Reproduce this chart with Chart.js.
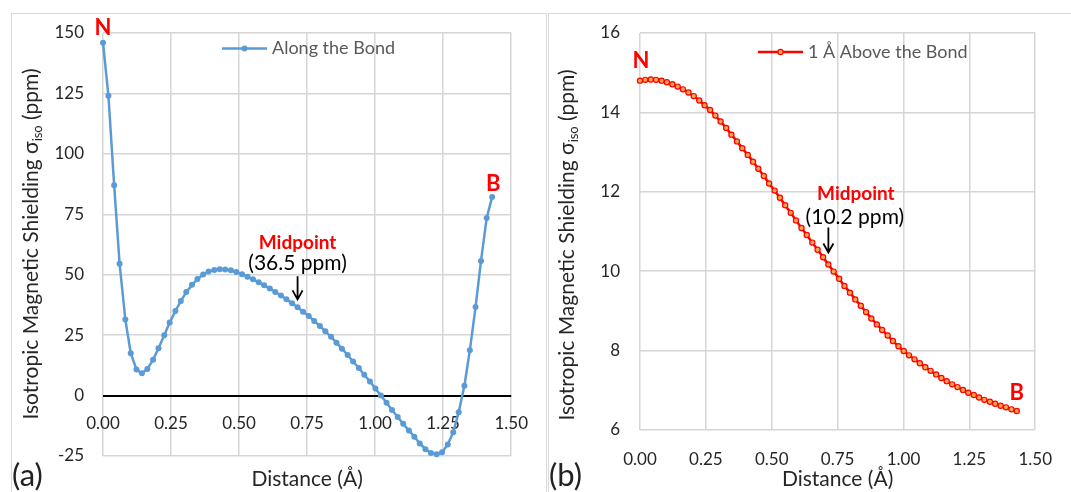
<!DOCTYPE html>
<html lang="en">
<head>
    <meta charset="UTF-8">
    <title>Isotropic Magnetic Shielding along the N-B bond</title>
    <script src="https://cdn.jsdelivr.net/npm/chart.js"></script>
    <style>
        body { margin: 0; background: #fff; }
        #wrap { position: relative; width: 1071px; height: 492px; overflow: hidden; background: #fff; font-family: Lato, sans-serif; }
        .panel { position: absolute; top: 13px; height: 520px; border: 1.5px solid #d9d9d9; box-sizing: border-box; }
        #panelA { left: 11px; width: 536px; }
        #panelB { left: 548px; width: 560px; }
        canvas { position: absolute; top: 0; }
        #chartA { left: 0; }
        #chartB { left: 548px; }
        .tag { position: absolute; top: 456px; font-size: 31px; line-height: 36px; color: #222; }
    </style>
</head>
<body>
<div id="wrap">
    <div class="panel" id="panelA"></div>
    <div class="panel" id="panelB"></div>
    <canvas id="chartA" width="546" height="492"></canvas>
    <canvas id="chartB" width="523" height="492"></canvas>
    <div class="tag" style="left:12px">(a)</div>
    <div class="tag" style="left:549px">(b)</div>
</div>
<script>
    // distance from N (Å), same grid for both scans
    const distance = [
        0.000, 0.020, 0.041, 0.061, 0.082, 0.102, 0.123, 0.143, 0.163, 0.184,
        0.204, 0.225, 0.245, 0.266, 0.286, 0.306, 0.327, 0.347, 0.368, 0.388,
        0.409, 0.429, 0.449, 0.470, 0.490, 0.511, 0.531, 0.551, 0.572, 0.592,
        0.613, 0.633, 0.654, 0.674, 0.695, 0.715, 0.735, 0.756, 0.776, 0.797,
        0.817, 0.838, 0.858, 0.878, 0.899, 0.919, 0.940, 0.960, 0.981, 1.001,
        1.021, 1.042, 1.062, 1.083, 1.103, 1.124, 1.144, 1.164, 1.185, 1.205,
        1.226, 1.246, 1.267, 1.287, 1.307, 1.328, 1.348, 1.369, 1.389, 1.410, 1.430
    ];

    // sigma_iso (ppm) along the bond
    const sigmaAlong = [
        146, 124, 87, 54.5, 31.5, 17.5, 10.8, 9.2, 11.0, 14.8,
        19.6, 25.0, 30.2, 35.0, 39.1, 42.8, 45.8, 48.2, 50.1, 51.3,
        52.0, 52.3, 52.2, 51.8, 51.1, 50.2, 49.2, 48.1, 46.9, 45.6,
        44.3, 42.9, 41.4, 39.8, 38.2, 36.5, 34.7, 32.9, 30.9, 28.8,
        26.6, 24.3, 21.9, 19.4, 16.8, 14.1, 11.4, 8.6, 5.8, 2.9,
        0.0, -3.0, -6.0, -8.9, -11.7, -14.4, -17.0, -19.8, -22.2, -23.8,
        -24.3, -23.4, -20.2, -15.2, -6.9, 4.1, 18.7, 36.6, 55.7, 73.5, 82.2
    ];

    // sigma_iso (ppm) 1 Å above the bond
    const sigmaAbove = [
        14.80, 14.82, 14.83, 14.82, 14.80, 14.76, 14.71, 14.65, 14.58, 14.50,
        14.41, 14.30, 14.18, 14.06, 13.92, 13.77, 13.61, 13.44, 13.27, 13.10,
        12.93, 12.76, 12.58, 12.40, 12.21, 12.03, 11.85, 11.66, 11.47, 11.28,
        11.09, 10.91, 10.72, 10.54, 10.35, 10.17, 9.99, 9.81, 9.63, 9.46,
        9.29, 9.13, 8.97, 8.81, 8.66, 8.52, 8.38, 8.24, 8.11, 7.99,
        7.88, 7.78, 7.68, 7.58, 7.49, 7.40, 7.31, 7.23, 7.15, 7.08,
        7.01, 6.94, 6.88, 6.82, 6.76, 6.71, 6.66, 6.61, 6.57, 6.52, 6.48
    ];

    const distanceTicks = [0, 0.25, 0.5, 0.75, 1, 1.25, 1.5];
    const alongTicks = [-25, 0, 25, 50, 75, 100, 125, 150];
    const aboveTicks = [6, 8, 10, 12, 14, 16];
    const seriesNames = ['Along the Bond', '1 Å Above the Bond'];
    const midLabels = ['(36.5 ppm)', '(10.2 ppm)'];
    const midIndex = 35;

    const FONT = 'Lato, "Open Sans", sans-serif';
    const GRID = '#d6d6d6';
    const TEXT = '#262626';
    const RED = '#ff0000';

    // draws y title (with subscript), legend and the N / B / midpoint notes
    const decor = {
        id: 'decor',
        afterDatasetsDraw(chart, args, o) {
            const ctx = chart.ctx;
            const xs = chart.scales.x, ys = chart.scales.y;
            const ds = chart.data.datasets[0];
            const pts = ds.data;

            // y axis title
            const t = o.yTitle;
            ctx.save();
            ctx.translate(t.x, t.y);
            ctx.rotate(-Math.PI / 2);
            ctx.fillStyle = TEXT;
            ctx.textAlign = 'left';
            ctx.textBaseline = 'alphabetic';
            const big = t.size + 'px ' + FONT, small = t.subSize + 'px ' + FONT;
            ctx.font = big;
            const w1 = ctx.measureText(t.before).width;
            const w3 = ctx.measureText(t.after).width;
            ctx.font = small;
            const w2 = ctx.measureText(t.sub).width;
            let cx = -(w1 + w2 + w3) / 2;
            ctx.font = big; ctx.fillText(t.before, cx, 0); cx += w1;
            ctx.font = small; ctx.fillText(t.sub, cx, t.subShift); cx += w2;
            ctx.font = big; ctx.fillText(t.after, cx, 0);
            ctx.restore();

            // legend
            const L = o.legend;
            ctx.save();
            ctx.strokeStyle = ds.borderColor;
            ctx.lineWidth = ds.borderWidth;
            ctx.beginPath();
            ctx.moveTo(L.x, L.y);
            ctx.lineTo(L.x + 45, L.y);
            ctx.stroke();
            ctx.beginPath();
            ctx.arc(L.x + 22.5, L.y, ds.pointRadius, 0, Math.PI * 2);
            ctx.fillStyle = ds.pointBackgroundColor;
            ctx.fill();
            if (ds.pointBorderWidth) { ctx.lineWidth = ds.pointBorderWidth; ctx.stroke(); }
            ctx.font = L.size + 'px ' + FONT;
            ctx.fillStyle = '#595959';
            ctx.textAlign = 'left';
            ctx.textBaseline = 'middle';
            ctx.fillText(ds.label, L.x + 50, L.y);
            ctx.restore();

            // notes anchored on data points
            ctx.save();
            for (const n of o.notes) {
                const p = pts[n.at];
                const x = xs.getPixelForValue(p.x) + (n.dx || 0);
                const y = ys.getPixelForValue(p.y);
                if (n.arrow) {
                    const y1 = y + n.arrow[0], y2 = y + n.arrow[1];
                    ctx.strokeStyle = '#000';
                    ctx.lineWidth = 1.8;
                    ctx.beginPath();
                    ctx.moveTo(x, y1); ctx.lineTo(x, y2);
                    ctx.moveTo(x - 5, y2 - 9); ctx.lineTo(x, y2); ctx.lineTo(x + 5, y2 - 9);
                    ctx.stroke();
                } else {
                    ctx.font = (n.bold ? 'bold ' : '') + n.size + 'px ' + FONT;
                    ctx.fillStyle = n.color;
                    ctx.textAlign = 'center';
                    ctx.textBaseline = 'middle';
                    ctx.fillText(n.text, x, y + n.dy);
                }
            }
            ctx.restore();
        }
    };

    function setTicks(values) {
        return scale => { scale.ticks = values.map(v => ({ value: v })); };
    }

    function makeChart(id, c) {
        const canvas = document.getElementById(id);
        const W = canvas.width, H = canvas.height;
        const tickFont = { family: FONT, size: 17 };

        const scales = {
            x: {
                type: 'linear',
                position: 'bottom',
                min: distanceTicks[0],
                max: distanceTicks[distanceTicks.length - 1],
                afterBuildTicks: setTicks(distanceTicks),
                afterFit: s => { s.height = H - c.area.bottom; },
                grid: { color: GRID, lineWidth: 1.5, drawTicks: false },
                border: { display: false },
                ticks: {
                    display: !c.labelsAtZero,
                    padding: 19,
                    font: tickFont,
                    color: TEXT,
                    callback: v => v.toFixed(2)
                },
                title: {
                    display: true,
                    text: 'Distance (Å)',
                    font: { family: FONT, size: 21 },
                    color: TEXT,
                    padding: { top: 0, bottom: 0 }
                }
            },
            y: {
                type: 'linear',
                min: c.yTicks[0],
                max: c.yTicks[c.yTicks.length - 1],
                afterBuildTicks: setTicks(c.yTicks),
                afterFit: s => { s.width = c.area.left; },
                grid: {
                    drawTicks: false,
                    color: g => (c.labelsAtZero && g.tick && g.tick.value === 0) ? '#000' : GRID,
                    lineWidth: g => (c.labelsAtZero && g.tick && g.tick.value === 0) ? 2 : 1.5
                },
                border: { display: false },
                ticks: { padding: c.yPad, font: tickFont, color: TEXT, callback: v => String(v) }
            }
        };

        if (c.labelsAtZero) {
            // tick labels sit next to the zero line, as in the original
            scales.x2 = {
                type: 'linear',
                axis: 'x',
                position: { y: 0 },
                min: distanceTicks[0],
                max: distanceTicks[distanceTicks.length - 1],
                afterBuildTicks: setTicks(distanceTicks),
                afterFit: s => { s.height = 0; },
                grid: { display: false, drawTicks: false },
                border: { display: false },
                ticks: { padding: 18, font: tickFont, color: TEXT, callback: v => v.toFixed(2) }
            };
        }

        return new Chart(canvas, {
            type: 'line',
            data: {
                datasets: [{
                    label: c.name,
                    data: distance.map((d, i) => ({ x: d, y: c.values[i] })),
                    borderColor: c.color,
                    backgroundColor: c.color,
                    borderWidth: 2.5,
                    pointRadius: c.pointRadius,
                    pointBackgroundColor: c.pointFill,
                    pointBorderColor: c.color,
                    pointBorderWidth: c.pointBorder,
                    tension: 0,
                    clip: false
                }]
            },
            options: {
                responsive: false,
                animation: false,
                devicePixelRatio: 1,
                layout: { padding: { top: c.area.top, right: W - c.area.right, left: 0, bottom: 0 } },
                plugins: {
                    legend: { display: false },
                    tooltip: { enabled: false },
                    decor: c.decor
                },
                scales: scales
            },
            plugins: [decor]
        });
    }

    makeChart('chartA', {
        name: seriesNames[0],
        values: sigmaAlong,
        yTicks: alongTicks,
        color: '#5b9bd5',
        pointFill: '#5b9bd5',
        pointRadius: 3,
        pointBorder: 0,
        labelsAtZero: true,
        yPad: 19,
        area: { left: 103, right: 512, top: 33, bottom: 456 },
        decor: {
            yTitle: { x: 37.5, y: 244, size: 21, subSize: 13, subShift: 4,
                      before: 'Isotropic Magnetic Shielding σ', sub: 'iso', after: ' (ppm)' },
            legend: { x: 222, y: 48.5, size: 18 },
            notes: [
                { at: 0, text: 'N', dy: -15, bold: true, size: 22, color: RED },
                { at: distance.length - 1, text: 'B', dx: 1, dy: -13, bold: true, size: 22, color: RED },
                { at: midIndex, text: 'Midpoint', dy: -64, bold: true, size: 19, color: RED },
                { at: midIndex, text: midLabels[0], dy: -44, size: 21, color: '#000' },
                { at: midIndex, arrow: [-31, -8] }
            ]
        }
    });

    makeChart('chartB', {
        name: seriesNames[1],
        values: sigmaAbove,
        yTicks: aboveTicks,
        color: RED,
        pointFill: '#ffa64d',
        pointRadius: 2.6,
        pointBorder: 1.2,
        labelsAtZero: false,
        yPad: 20,
        area: { left: 92, right: 502, top: 33, bottom: 430 },
        decor: {
            yTitle: { x: 25.5, y: 245, size: 21, subSize: 13, subShift: 4,
                      before: 'Isotropic Magnetic Shielding σ', sub: 'iso', after: ' (ppm)' },
            legend: { x: 210, y: 52, size: 18 },
            notes: [
                { at: 0, text: 'N', dx: 1, dy: -20, bold: true, size: 22, color: RED },
                { at: distance.length - 1, text: 'B', dy: -18, bold: true, size: 22, color: RED },
                { at: midIndex, text: 'Midpoint', dx: 27.5, dy: -71, bold: true, size: 19, color: RED },
                { at: midIndex, text: midLabels[1], dx: 26.5, dy: -47, size: 21, color: '#000' },
                { at: midIndex, arrow: [-37, -12] }
            ]
        }
    });
</script>
</body>
</html>
